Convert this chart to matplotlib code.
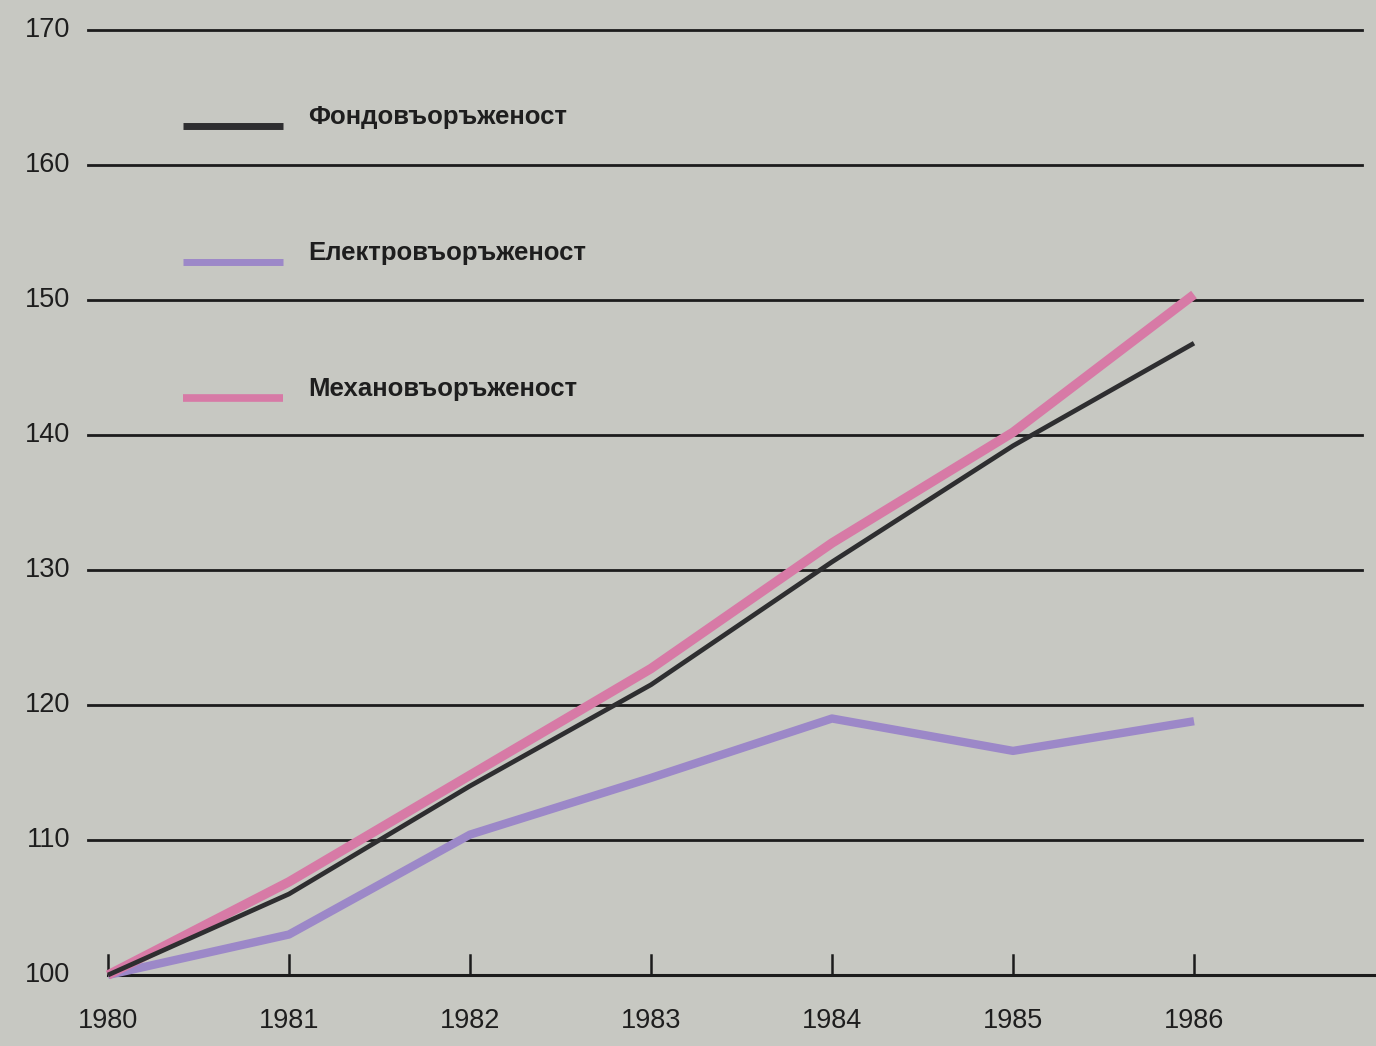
import numpy as np
import matplotlib
matplotlib.use("Agg")
import matplotlib.pyplot as plt

#%% Data (index, 1980 = 100)
years      = [1980, 1981, 1982, 1983, 1984, 1985, 1986]
fondovar   = [100, 106.0, 114.0, 121.5, 130.6, 139.2, 146.8]   # Фондовъоръженост
elektrovar = [100, 103.0, 110.4, 114.6, 119.0, 116.6, 118.8]   # Електровъоръженост
mehanovar  = [100, 106.9, 114.8, 122.7, 132.0, 140.2, 150.4]   # Механовъоръженост
labels     = ["Фондовъоръженост", "Електровъоръженост", "Механовъоръженост"]
y_ticks    = [100, 110, 120, 130, 140, 150, 160, 170]

#%% Style
bg_col     = "#c7c8c2"
black_col  = "#2e2e30"
purple_col = "#9c88c8"
pink_col   = "#d77aa6"
plt.rcParams['font.family'] = ['Liberation Sans', 'DejaVu Sans']

#%% Figure - axes fill the whole canvas, pixel mapping done through limits
W, H  = 1376, 1046
fig   = plt.figure(figsize=(W/100, H/100), dpi=100, facecolor=bg_col)
ax    = fig.add_axes([0, 0, 1, 1])
ax.set_facecolor(bg_col)
ax.axis('off')

px_yr  = 181.0                     # pixels per year
px_u   = 13.5                      # pixels per index unit
x0     = years[0] - 108/px_yr
x1     = years[0] + (W - 108)/px_yr
ax.set_xlim(x0, x1)
ax.set_ylim(100 - (H - 975)/px_u, 170 + 30/px_u)

def px2x(p):
    return x0 + p/px_yr

# gridlines
for v in y_ticks[1:]:
    ax.plot([px2x(88), px2x(1362)], [v, v], color='#1c1c1c', lw=2.0, zorder=1)
ax.plot([years[0], px2x(1376)], [100, 100], color='#1c1c1c', lw=2.2, zorder=1)

# year ticks
for yr in years:
    ax.plot([yr, yr], [100, 101.5], color='#1c1c1c', lw=1.8, zorder=1)
    ax.text(yr, 96.6, str(yr), ha='center', va='center', fontsize=19.5, color='#1e1e1e')

for v in y_ticks:
    ax.text(px2x(70), v, str(v), ha='right', va='center', fontsize=19.5, color='#1e1e1e')

# series
ax.plot(years, elektrovar, color=purple_col, lw=6.0, solid_capstyle='butt', zorder=3)
ax.plot(years, mehanovar,  color=pink_col,   lw=6.8, solid_capstyle='butt', zorder=4)
ax.plot(years, fondovar,   color=black_col,  lw=3.4, solid_capstyle='butt', zorder=5)

# legend, drawn by hand
leg_y   = [126, 262, 398]
leg_c   = [black_col, purple_col, pink_col]
leg_w   = [5.0, 5.0, 5.5]
for k in range(3):
    yv = 170 + (30 - leg_y[k])/px_u
    ax.plot([px2x(183), px2x(283)], [yv, yv], color=leg_c[k], lw=leg_w[k], solid_capstyle='butt')
    ax.text(px2x(308), yv + 0.7, labels[k], ha='left', va='center', fontsize=18.5,
            color='#1e1e1e', fontweight='bold')

fig.savefig("out.png", dpi=100, facecolor=bg_col)
